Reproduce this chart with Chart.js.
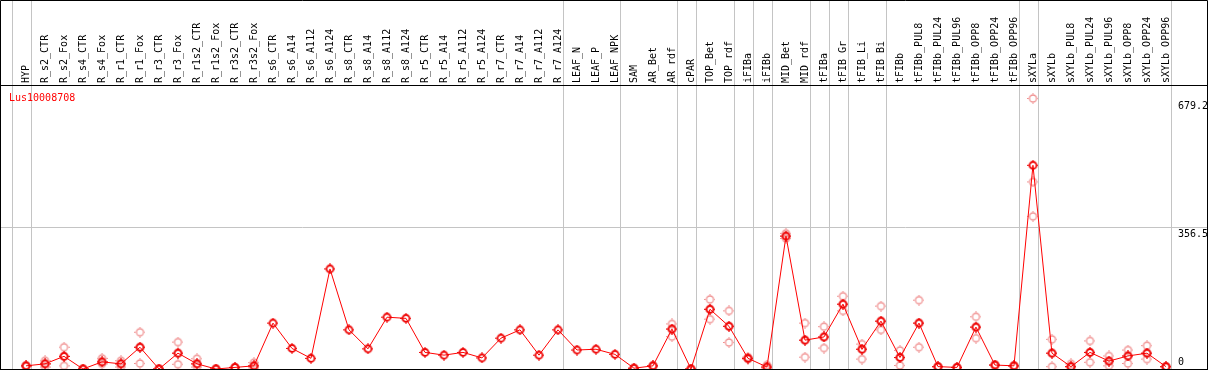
<!DOCTYPE html>
<html>
<head>
<meta charset="utf-8">
<script src="https://cdn.jsdelivr.net/npm/chart.js@4/dist/chart.umd.min.js"></script>
<style>
  html, body { margin: 0; padding: 0; background: #fff; }
  #wrap { width: 1209px; height: 370px; }
</style>
</head>
<body>
<div id="wrap"><canvas id="geneChart"></canvas></div>
<script>
const geneName = 'Lus10008708';

const categories = [
  'HYP', 'R_s2_CTR', 'R_s2_Fox', 'R_s4_CTR', 'R_s4_Fox', 'R_r1_CTR', 'R_r1_Fox', 'R_r3_CTR', 'R_r3_Fox',
  'R_r1s2_CTR', 'R_r1s2_Fox', 'R_r3s2_CTR', 'R_r3s2_Fox', 'R_s6_CTR', 'R_s6_A14', 'R_s6_A112', 'R_s6_A124',
  'R_s8_CTR', 'R_s8_A14', 'R_s8_A112', 'R_s8_A124', 'R_r5_CTR', 'R_r5_A14', 'R_r5_A112', 'R_r5_A124',
  'R_r7_CTR', 'R_r7_A14', 'R_r7_A112', 'R_r7_A124', 'LEAF_N', 'LEAF_P', 'LEAF_NPK', 'SAM', 'AR_Bet', 'AR_rdf',
  'cPAR', 'TOP_Bet', 'TOP_rdf', 'iFIBa', 'iFIBb', 'MID_Bet', 'MID_rdf', 'tFIBa', 'tFIB_Gr', 'tFIB_Li', 'tFIB_Bi',
  'tFIBb', 'tFIBb_PUL8', 'tFIBb_PUL24', 'tFIBb_PUL96', 'tFIBb_OPP8', 'tFIBb_OPP24', 'tFIBb_OPP96',
  'sXYLa', 'sXYLb', 'sXYLb_PUL8', 'sXYLb_PUL24', 'sXYLb_PUL96', 'sXYLb_OPP8', 'sXYLb_OPP24', 'sXYLb_OPP96'
];

// mean expression per sample
const meanValues = [
  8, 13, 32, 0, 18, 13, 55, 0, 40,
  13, 0, 4, 8, 116, 52, 27, 253,
  99, 51, 131, 128, 42, 35, 42, 28,
  78, 99, 35, 99, 48, 50, 37, 2, 8, 101,
  0, 151, 108, 27, 5, 336, 73, 81, 164, 50, 121,
  29, 116, 6, 4, 106, 10, 8,
  515, 40, 6, 42, 20, 33, 40, 6
];

// individual replicates (null = none shown)
const rep1 = [
  8, 21, 55, 0, 27, 21, 93, 0, 68,
  26, 0, 4, 16, null, null, null, null,
  null, null, null, null, null, null, null, null,
  null, null, null, null, null, null, null, 2, 8, 114,
  0, 176, 147, 30, 10, 343, 116, 107, 184, 63, 159,
  47, 174, 6, 4, 132, 10, 8,
  684, 75, 13, 71, 33, 48, 59, 6
];
const rep2 = [
  8, 5, 8, 0, 13, 5, 14, 0, 12,
  5, 0, 4, 3, null, null, null, null,
  null, null, null, null, null, null, null, null,
  null, null, null, null, null, null, null, 2, 8, 82,
  0, 126, 67, 25, 0, 330, 30, 53, 147, 25, 99,
  9, 55, 6, 4, 78, 10, 8,
  386, 6, 6, 17, 8, 14, 25, 6
];
const rep3 = [
  8, 13, 32, 0, 18, 13, 55, 0, 40,
  13, 0, 4, 8, null, null, null, null,
  null, null, null, null, null, null, null, null,
  null, null, null, null, null, null, null, 2, 8, 101,
  0, 151, 108, 27, 5, 336, 73, 81, 164, 50, 121,
  29, 116, 6, 4, 106, 10, 8,
  473, 40, 6, 42, 20, 33, 40, 6
];

const yTicks = [0, 356.5, 679.2];
const yMax = 718;
// last sample of each group (-1 = before the first one)
const groupEnds = [-1, 0, 28, 31, 34, 35, 37, 38, 39, 41, 42, 43, 45, 52, 53, 60];

function marker(color, lw) {
  const c = document.createElement('canvas');
  c.width = 11; c.height = 11;
  const g = c.getContext('2d');
  g.strokeStyle = color;
  g.fillStyle = color;
  g.lineWidth = lw;
  g.beginPath();
  g.arc(5.5, 5.5, 3.5, 0, Math.PI * 2);
  g.stroke();
  g.fillRect(5, 0, 1, 1);
  g.fillRect(5, 10, 1, 1);
  g.fillRect(0, 5, 1, 1);
  g.fillRect(10, 5, 1, 1);
  return c;
}

const meanPoints = meanValues.map((v, i) => ({ x: i, y: v }));
const repPoints = [];
[rep1, rep2, rep3].forEach(arr => {
  arr.forEach((v, i) => { if (v !== null) repPoints.push({ x: i, y: v }); });
});

const monoFont = { family: 'DejaVu Sans Mono', size: 10 };

const decor = {
  id: 'decor',
  beforeDatasetsDraw(chart) {
    const { ctx, chartArea, scales } = chart;
    ctx.save();
    ctx.strokeStyle = '#c4c4c4';
    ctx.lineWidth = 1;
    groupEnds.forEach(i => {
      const px = Math.round(scales.x.getPixelForValue(i + 0.25)) + 0.5;
      ctx.beginPath();
      ctx.moveTo(px, 0);
      ctx.lineTo(px, chartArea.bottom);
      ctx.stroke();
    });
    ctx.restore();
  },
  afterDraw(chart) {
    const { ctx, chartArea, scales } = chart;
    ctx.save();
    // frame
    ctx.strokeStyle = '#000';
    ctx.lineWidth = 1;
    ctx.beginPath();
    ctx.moveTo(0.5, chartArea.bottom + 0.5);
    ctx.lineTo(0.5, 0.5);
    ctx.lineTo(chartArea.right + 0.5, 0.5);
    ctx.lineTo(chartArea.right + 0.5, chartArea.bottom + 0.5);
    ctx.moveTo(0, chartArea.top + 0.5);
    ctx.lineTo(chartArea.right + 1, chartArea.top + 0.5);
    ctx.stroke();
    ctx.lineWidth = 2;
    ctx.beginPath();
    ctx.moveTo(0, chartArea.bottom + 1);
    ctx.lineTo(chartArea.right + 1, chartArea.bottom + 1);
    ctx.stroke();

    // gene name
    ctx.font = '10px "DejaVu Sans Mono"';
    ctx.fillStyle = '#ff0000';
    ctx.textAlign = 'left';
    ctx.textBaseline = 'middle';
    ctx.fillText(geneName, 9, chartArea.top + 13);

    // y tick labels
    ctx.fillStyle = '#000';
    yTicks.forEach(v => {
      const py = scales.y.getPixelForValue(v);
      if (py + 12 > chartArea.bottom) {
        ctx.textBaseline = 'bottom';
        ctx.fillText(String(v), 1178, py - 2);
      } else {
        ctx.textBaseline = 'top';
        ctx.fillText(String(v), 1178, py + 1);
      }
    });
    ctx.restore();
  }
};

new Chart(document.getElementById('geneChart'), {
  type: 'line',
  data: {
    datasets: [
      {
        label: 'mean',
        data: meanPoints,
        borderColor: '#ff0000',
        borderWidth: 1,
        pointStyle: marker('#ee0000', 1.8),
        pointRadius: 5,
        tension: 0,
        fill: false
      },
      {
        label: 'replicates',
        data: repPoints,
        showLine: false,
        pointStyle: marker('#f09090', 1.3),
        pointRadius: 5
      }
    ]
  },
  options: {
    responsive: true,
    maintainAspectRatio: false,
    animation: false,
    layout: { autoPadding: false, padding: { left: 1, right: 2, top: 0, bottom: 1 } },
    plugins: { legend: { display: false }, tooltip: { enabled: false } },
    scales: {
      x: {
        type: 'linear',
        position: 'top',
        min: -1.316,
        max: 62.16,
        afterBuildTicks: s => { s.ticks = categories.map((c, i) => ({ value: i })); },
        afterFit: s => {
          s.height = 85;
          s.paddingLeft = 0;
          s.paddingRight = 0;
        },
        grid: { display: false, drawTicks: false },
        border: { display: false },
        ticks: {
          autoSkip: false,
          minRotation: 90,
          maxRotation: 90,
          padding: 2,
          labelOffset: 12.5,
          color: '#000',
          font: monoFont,
          callback: v => categories[v]
        }
      },
      y: {
        position: 'right',
        min: 0,
        max: yMax,
        afterBuildTicks: s => { s.ticks = yTicks.map(v => ({ value: v })); },
        afterFit: s => {
          s.width = 0;
          s.paddingTop = 0;
          s.paddingBottom = 0;
        },
        grid: {
          drawTicks: false,
          color: c => (c.tick && c.tick.value === 356.5 ? '#c4c4c4' : 'rgba(0,0,0,0)')
        },
        border: { display: false },
        ticks: { display: false }
      }
    }
  },
  plugins: [decor]
});
</script>
</body>
</html>
